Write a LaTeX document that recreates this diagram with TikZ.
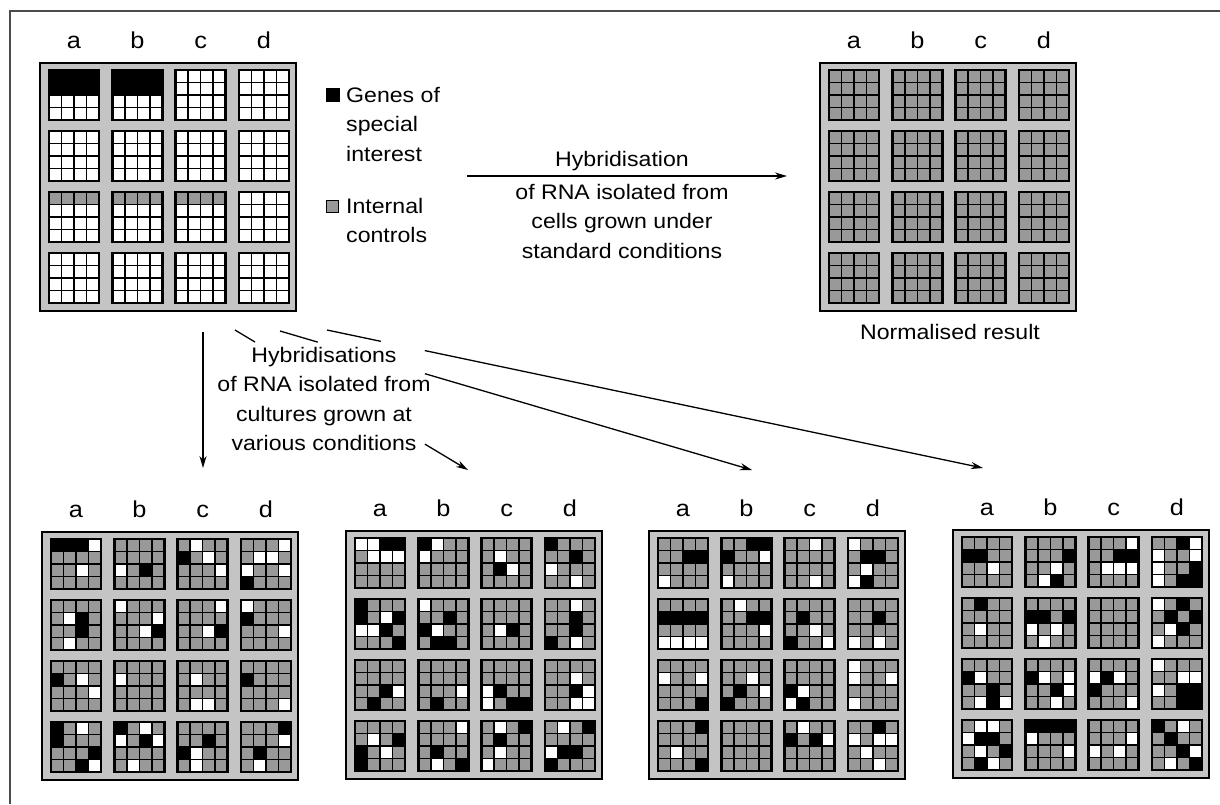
\documentclass[tikz,border=0pt]{standalone}
\usepackage{fontspec}
\setmainfont{Liberation Sans}[FakeStretch=1.1]
\usetikzlibrary{arrows.meta,calc}
\definecolor{colG}{gray}{0.6}
\definecolor{colW}{gray}{1}
\definecolor{colB}{gray}{0}
\definecolor{bgG}{gray}{0.77}
\definecolor{frameC}{gray}{0.3}

\def\blkparse#1{\ifx#1.\let\blknext\relax\else\def\blkcur{#1}\let\blknext\blkstep\fi\blknext}
\def\blkstep{%
  \pgfmathsetmacro\blkcx{mod(\blkidx,4)*12.5}%
  \pgfmathsetmacro\blkcy{floor(\blkidx/4)*12.5}%
  \edef\blkcolname{col\blkcur}%
  \fill[fill=\blkcolname] (\blkcx,\blkcy) rectangle ++(12.5,12.5);%
  \pgfmathtruncatemacro\blkidx{\blkidx+1}%
  \blkparse}
\newcommand\blk[3]{%
  \begin{scope}[shift={({9+#1*63.3},{7+#2*61})}]
    \def\blkidx{0}%
    \blkparse#3.%
    \draw[line width=1.5] (12.5,0)--(12.5,50) (25,0)--(25,50) (37.5,0)--(37.5,50)
      (0,12.5)--(50,12.5) (0,25)--(50,25) (0,37.5)--(50,37.5);
    \draw[line width=2.6] (0,0) rectangle (50,50);
  \end{scope}}
\newcommand\abcd[1]{%
  \foreach \l [count=\i from 0] in {a,b,c,d}
    \node[lbl] (#1\l) at ({34+\i*63.3},-15) {\l};}

\tikzset{
  gridbox/.style={draw, line width=1.8, fill=bgG, anchor=north west,
    minimum width=256pt, minimum height=248pt, inner sep=0pt, outer sep=0pt},
  lbl/.style={anchor=base, inner sep=0pt, font=\fontsize{23}{23}\selectfont},
  txt/.style={inner sep=0pt, font=\fontsize{21}{29.5}\selectfont},
  arr/.style={line width=1.3, -{Stealth[length=12pt,width=7pt]}},
  ln/.style={line width=1.3},
}

\begin{document}
\begin{tikzpicture}[x=1pt,y=-1pt]
\useasboundingbox (0,0) rectangle (1220,804);
\draw[line width=1.5, frameC] (10,804) -- (10,11) -- (1220,11);

% ---------- top-left array ----------
\begin{scope}[shift={(40,63)}]
  \node[gridbox] (G0) at (0,0) {};
  \abcd{G0}
  \blk{0}{0}{BBBB BBBB WWWW WWWW}
  \blk{1}{0}{BBBB BBBB WWWW WWWW}
  \blk{2}{0}{WWWW WWWW WWWW WWWW}
  \blk{3}{0}{WWWW WWWW WWWW WWWW}
  \blk{0}{1}{WWWW WWWW WWWW WWWW}
  \blk{1}{1}{WWWW WWWW WWWW WWWW}
  \blk{2}{1}{WWWW WWWW WWWW WWWW}
  \blk{3}{1}{WWWW WWWW WWWW WWWW}
  \blk{0}{2}{GGGG WWWW WWWW WWWW}
  \blk{1}{2}{GGGG WWWW WWWW WWWW}
  \blk{2}{2}{GGGG WWWW WWWW WWWW}
  \blk{3}{2}{WWWW WWWW WWWW WWWW}
  \blk{0}{3}{WWWW WWWW WWWW WWWW}
  \blk{1}{3}{WWWW WWWW WWWW WWWW}
  \blk{2}{3}{WWWW WWWW WWWW WWWW}
  \blk{3}{3}{WWWW WWWW WWWW WWWW}
\end{scope}

% ---------- legend ----------
\node[fill=black, minimum size=14pt, inner sep=0pt, anchor=south west] (lgB) at (326,102) {};
\node[txt, anchor=base west, align=left] (lgBt) at (346,161) {Genes of\\special\\interest};
\node[draw, fill=colG, line width=1, minimum size=12pt, inner sep=0pt, anchor=south west] (lgG) at (326,213) {};
\node[txt, anchor=base west, align=left] (lgGt) at (346,242.5) {Internal\\controls};

% ---------- top arrow ----------
\node[txt, anchor=base] (hyb) at (622,166) {Hybridisation};
\coordinate (hs) at (467,176);
\coordinate (ht) at (787,176);
\draw[arr] (hs) -- (ht);
\node[txt, anchor=base, align=center] (hybsub) at (622,258) {of RNA isolated from\\cells grown under\\standard conditions};

% ---------- top-right array ----------
\begin{scope}[shift={(820,63)}]
  \node[gridbox] (G5) at (0,0) {};
  \abcd{G5}
  \foreach \c in {0,1,2,3}{\foreach \r in {0,1,2,3}{\blk{\c}{\r}{GGGG GGGG GGGG GGGG}}}
\end{scope}
\node[txt, anchor=base] (norm) at (950,339) {Normalised result};

% ---------- lower text and arrows ----------
\node[txt, anchor=base, align=center] (hyb2) at (324,450.5) {Hybridisations\\of RNA isolated from\\cultures grown at\\various conditions};
\coordinate (s1) at (203,332); \coordinate (t1) at (203,468);
\coordinate (s2) at (235,330); \coordinate (t2) at (468,470);
\coordinate (s3) at (280,331); \coordinate (t3) at (752,470);
\coordinate (s4) at (327,330); \coordinate (t4) at (983,468);
\draw[arr] (s1) -- (t1);
\draw[ln] (s2) -- ($(s2)!0.086!(t2)$);
\draw[arr] ($(s2)!0.815!(t2)$) -- (t2);
\draw[ln] (s3) -- ($(s3)!0.08!(t3)$);
\draw[arr] ($(s3)!0.307!(t3)$) -- (t3);
\draw[ln] (s4) -- ($(s4)!0.082!(t4)$);
\draw[arr] ($(s4)!0.149!(t4)$) -- (t4);

% ---------- bottom array 1 ----------
\begin{scope}[shift={(42,532)}]
  \node[gridbox] (G1) at (0,0) {};
  \abcd{G1}
  \blk{0}{0}{BBBW GGGG GGWG GGGG}
  \blk{1}{0}{GGGG GGGG WGBG GGGG}
  \blk{2}{0}{GWGG BGWG GGGW GGGG}
  \blk{3}{0}{GGGW GWWG WGGW BGGG}
  \blk{0}{1}{GGGG GWBG GGBG GWGG}
  \blk{1}{1}{WGGG GGGW GGWB GGGG}
  \blk{2}{1}{GGGW GGGG GGWB GGGG}
  \blk{3}{1}{WGGG BGGG GGGW GGGG}
  \blk{0}{2}{GGGG BGWG GGGW GGGG}
  \blk{1}{2}{GGGG WGGG GGGG GGGG}
  \blk{2}{2}{GGGG GWGG GGGG GWWG}
  \blk{3}{2}{GGGG BGGG GGGG GGGW}
  \blk{0}{3}{BGWG BGGG GGGB GGBW}
  \blk{1}{3}{BGWG WGBW GGGG GWGG}
  \blk{2}{3}{GGGG GGBG BWGG GWGG}
  \blk{3}{3}{GGGB GGGW GBGG GWGG}
\end{scope}

% ---------- bottom array 2 ----------
\begin{scope}[shift={(346,531)}]
  \node[gridbox] (G2) at (0,0) {};
  \abcd{G2}
  \blk{0}{0}{WWBB GWWW GGGG GGGG}
  \blk{1}{0}{BWGG WGGG GGGG GGGG}
  \blk{2}{0}{GGGG GWGG GBWG GGGG}
  \blk{3}{0}{BGGG GGBG WGGG GGWG}
  \blk{0}{1}{BGGG BGWB WWBG GGGB}
  \blk{1}{1}{WGGG GGBG BWGG GBBG}
  \blk{2}{1}{GGGG GGGG GWBG GGGG}
  \blk{3}{1}{GGWG GGBG GGBG BGWG}
  \blk{0}{2}{GGGG GGGG GGBW GBGG}
  \blk{1}{2}{GGGG GGGG GGGW GBGG}
  \blk{2}{2}{GGGG GGGG WBGG WGBB}
  \blk{3}{2}{GGGG GGWG GGBW GGWW}
  \blk{0}{3}{GGGG GWGB BGWG BGGG}
  \blk{1}{3}{GGGW GGGG GBGG GWGB}
  \blk{2}{3}{GWGB GBGG GWGG WGGG}
  \blk{3}{3}{GWGB GGGG WBBG BGGG}
\end{scope}

% ---------- bottom array 3 ----------
\begin{scope}[shift={(649,531)}]
  \node[gridbox] (G3) at (0,0) {};
  \abcd{G3}
  \blk{0}{0}{GGGG GGBB GGGG WGGG}
  \blk{1}{0}{GGBB BGGW GGGG WGGG}
  \blk{2}{0}{GGWG GGGG GGGG GGWG}
  \blk{3}{0}{WGGG GBBG GWGG WBGG}
  \blk{0}{1}{GGGG BBBB GGGG WWWW}
  \blk{1}{1}{GWGG GGBB GGGW GGGG}
  \blk{2}{1}{GGGG GBGG GGWG BGGW}
  \blk{3}{1}{GGGG GGBG GGGG WGWG}
  \blk{0}{2}{GGGG WGGW GGGG GGGB}
  \blk{1}{2}{GGGG GGWG GBGW BGGG}
  \blk{2}{2}{GGGG GGGG BWGG WBGG}
  \blk{3}{2}{WGGG WGGW GGGG WGGG}
  \blk{0}{3}{GGGB GGGG GWGG GGGB}
  \blk{1}{3}{GGGG GGGG GGGG GGGG}
  \blk{2}{3}{GWGG BGBW GGGG GGGG}
  \blk{3}{3}{GGBG WGWW GWGG GGWG}
\end{scope}

% ---------- bottom array 4 ----------
\begin{scope}[shift={(953,530)}]
  \node[gridbox] (G4) at (0,0) {};
  \abcd{G4}
  \blk{0}{0}{GGGG BBGG GGWG GGGG}
  \blk{1}{0}{GGGG GGGB GGWG GWBG}
  \blk{2}{0}{GGGW GGBB GWWW GGGG}
  \blk{3}{0}{GGBW WGGW WGGB WGBB}
  \blk{0}{1}{GBGG GGGG GWGG GGGG}
  \blk{1}{1}{GGGG BBGB WGWG GWGG}
  \blk{2}{1}{GGGG GGGG GGGG GGGG}
  \blk{3}{1}{WGBG GBGB GWBG WGGG}
  \blk{0}{2}{GGGG BWGG GGBG GWBW}
  \blk{1}{2}{GGGG BWGW GGBW GGWG}
  \blk{2}{2}{GGGG WBWG BGGG GGGW}
  \blk{3}{2}{WGGG GGWW WGBB GGBB}
  \blk{0}{3}{GWWG WBBG GWGB GBWG}
  \blk{1}{3}{BBBB WGGG GGGW GGGG}
  \blk{2}{3}{GGGG GGGW WGWG GGGG}
  \blk{3}{3}{BGWG GBGG GGBW GWGB}
\end{scope}
\end{tikzpicture}
\end{document}
